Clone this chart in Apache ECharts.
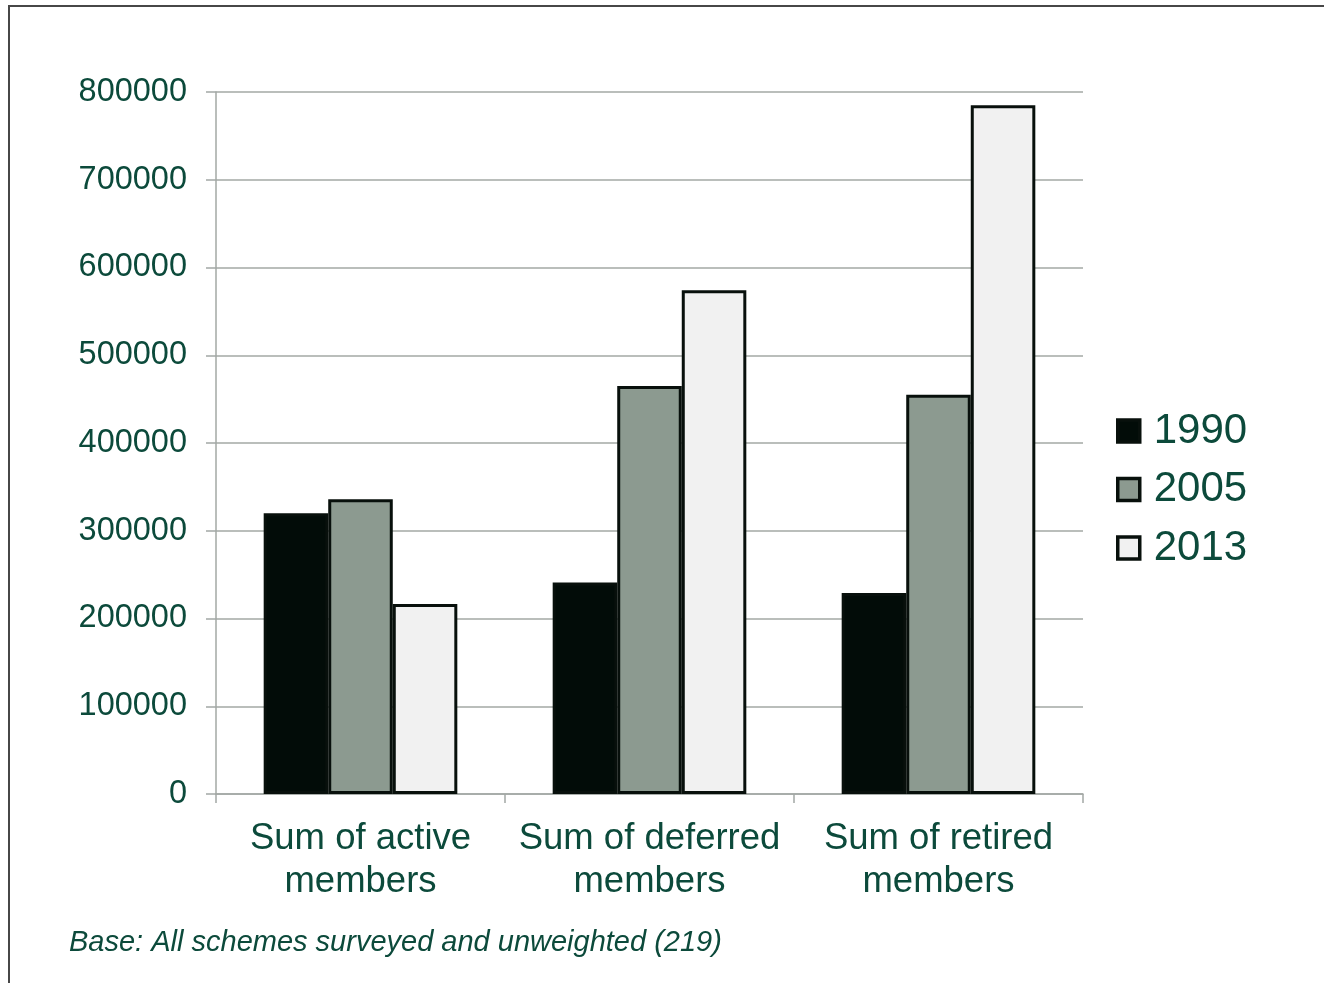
<!DOCTYPE html>
<html>
<head>
<meta charset="utf-8">
<script src="https://cdn.jsdelivr.net/npm/echarts@6/dist/echarts.min.js"></script>
<style>
  html, body { margin: 0; padding: 0; background: #ffffff; }
  #frame {
    position: absolute; left: 8px; top: 5px; width: 1330px; height: 1000px;
    border: 2px solid #474747; box-sizing: border-box;
  }
  #chart { position: absolute; left: 0; top: 0; width: 1324px; height: 983px; }
</style>
</head>
<body>
<div id="frame"></div>
<div id="chart"></div>
<script>
// Scheme membership totals by survey year
const categories = ['Sum of active\nmembers', 'Sum of deferred\nmembers', 'Sum of retired\nmembers'];
const years = ['1990', '2005', '2013'];
const members1990 = [320000, 241000, 229000];
const members2005 = [336000, 465000, 455000];
const members2013 = [216500, 574000, 785000];
const footnote = 'Base: All schemes surveyed and unweighted (219)';

const textColor = '#0c4a3b';
const gridColor = '#a3a8a5';
const fills = ['#020c08', '#8c9a90', '#f1f1f1'];
const values = [members1990, members2005, members2013];

const chart = echarts.init(document.getElementById('chart'));

chart.setOption({
  animation: false,
  backgroundColor: 'transparent',
  textStyle: { fontFamily: 'Liberation Sans, Arial, sans-serif' },
  grid: { left: 216, right: 241, top: 92, bottom: 189, containLabel: false },
  legend: {
    orient: 'vertical',
    left: 1111,
    top: 405,
    itemWidth: 22,
    itemHeight: 22,
    itemGap: 16.5,
    icon: 'rect',
    data: years,
    itemStyle: { borderColor: '#08100c', borderWidth: 3.5 },
    textStyle: { color: textColor, fontSize: 42, padding: [0, 0, 0, 9] }
  },
  xAxis: {
    type: 'category',
    data: categories,
    axisLine: { show: true, lineStyle: { color: gridColor, width: 1.5 } },
    axisTick: { show: true, length: 9, lineStyle: { color: gridColor, width: 1.5 } },
    axisLabel: {
      color: textColor, fontSize: 36.5, lineHeight: 43, margin: 23,
      interval: 0
    }
  },
  yAxis: {
    type: 'value',
    min: 0,
    max: 800000,
    interval: 100000,
    axisLine: { show: true, lineStyle: { color: gridColor, width: 1.5 } },
    axisTick: { show: true, length: 10, lineStyle: { color: gridColor, width: 1.5 } },
    splitLine: { show: true, lineStyle: { color: gridColor, width: 1.5 } },
    axisLabel: {
      color: textColor, fontSize: 32.5, margin: 29,
      formatter: (v) => String(v)
    }
  },
  series: years.map((y, i) => ({
    name: y,
    type: 'bar',
    data: values[i],
    barGap: '0%',
    barCategoryGap: '33%',
    itemStyle: { color: fills[i], borderColor: '#08100c', borderWidth: 3 }
  })),
  graphic: [{
    type: 'text',
    left: 69,
    top: 928,
    style: {
      text: footnote,
      fill: textColor,
      font: 'italic 29px "Liberation Sans", Arial, sans-serif'
    }
  }]
});
</script>
</body>
</html>
